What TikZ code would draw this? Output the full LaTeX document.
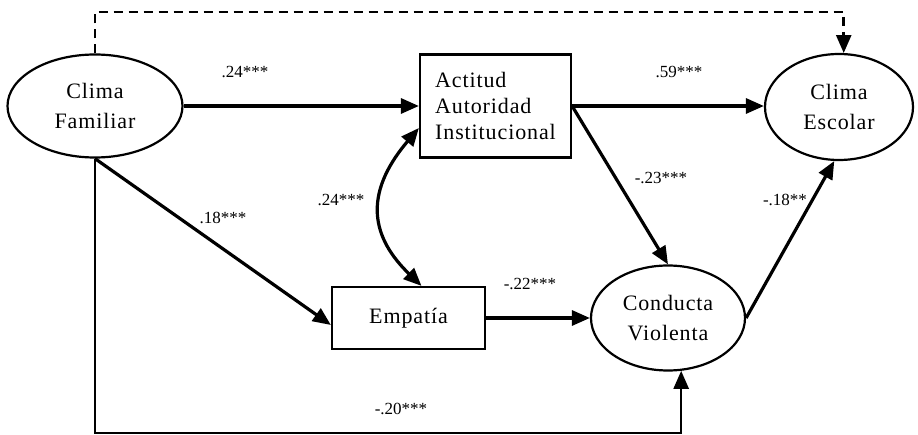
\documentclass[tikz,border=0pt]{standalone}
\usepackage{fontspec}
\setmainfont{Liberation Serif}
\newfontfamily\nodefont[LetterSpace=4]{Liberation Serif}
\usetikzlibrary{arrows.meta,shapes.geometric}
\tikzset{
  lat/.style={ellipse, draw, line width=2.2pt, inner sep=0pt, align=center, font=\nodefont\fontsize{22}{30}\selectfont},
  obs/.style={rectangle, draw, line width=2.2pt, inner sep=0pt, font=\nodefont\fontsize{22}{26}\selectfont},
  tip/.style={Triangle[length=18pt,width=15pt]},
  patharrow/.style={line width=3.2pt, -{Triangle[length=18pt,width=15pt]}},
  lbl/.style={font=\fontsize{17}{18}\selectfont, inner sep=0pt}
}
\begin{document}
\begin{tikzpicture}[x=1pt,y=-1pt]
\useasboundingbox (0,0) rectangle (918,435);
\node[lat, minimum width=175pt, minimum height=103pt] (cf) at (95,106) {Clima\\Familiar};
\node[lat, minimum width=148pt, minimum height=106pt] (ce) at (839,107) {Clima\\Escolar};
\node[lat, minimum width=154pt, minimum height=105pt] (cv) at (668,318) {Conducta\\Violenta};
\node[obs, minimum width=151pt, minimum height=103pt, align=left] (act) at (495.5,106) {Actitud\\Autoridad\\Institucional};
\node[obs, minimum width=153pt, minimum height=62pt] (emp) at (408.5,318) {Empatía};

\draw[patharrow] (cf.east) -- (act.west);
\draw[patharrow] (act.east) -- (ce.west |- act.east);
\draw[patharrow] (act.east) -- (cv.north);
\draw[patharrow] (emp.east) -- (cv.west);
\draw[patharrow] (cv.east) -- (ce.-95);
\draw[patharrow] (cf.south) -- ([yshift=-7pt]emp.west);
\draw[line width=2.6pt, -{Triangle[length=18pt,width=15pt]}] (cf.south) -- (cf.south |- 0,433) -| (cv.-76);
\draw[line width=2.6pt, dash pattern=on 9pt off 6pt, -{Triangle[length=18pt,width=15pt]}] (cf.north) -- (cf.north |- 0,12) -| (ce.85);
\draw[line width=3.2pt, {Triangle[length=18pt,width=15pt]}-{Triangle[length=18pt,width=15pt]}]
  ([yshift=-22pt]act.west) .. controls (362,195) and (372,238) .. ([xshift=13pt]emp.north);

\node[lbl] (l1) at (245,72) {.24***};
\node[lbl] (l2) at (679,72) {.59***};
\node[lbl] (l3) at (661,178) {-.23***};
\node[lbl] (l4) at (785,200) {-.18**};
\node[lbl] (l5) at (341,200) {.24***};
\node[lbl] (l6) at (223,218) {.18***};
\node[lbl] (l7) at (530,284) {-.22***};
\node[lbl] (l8) at (401,409) {-.20***};
\end{tikzpicture}
\end{document}
